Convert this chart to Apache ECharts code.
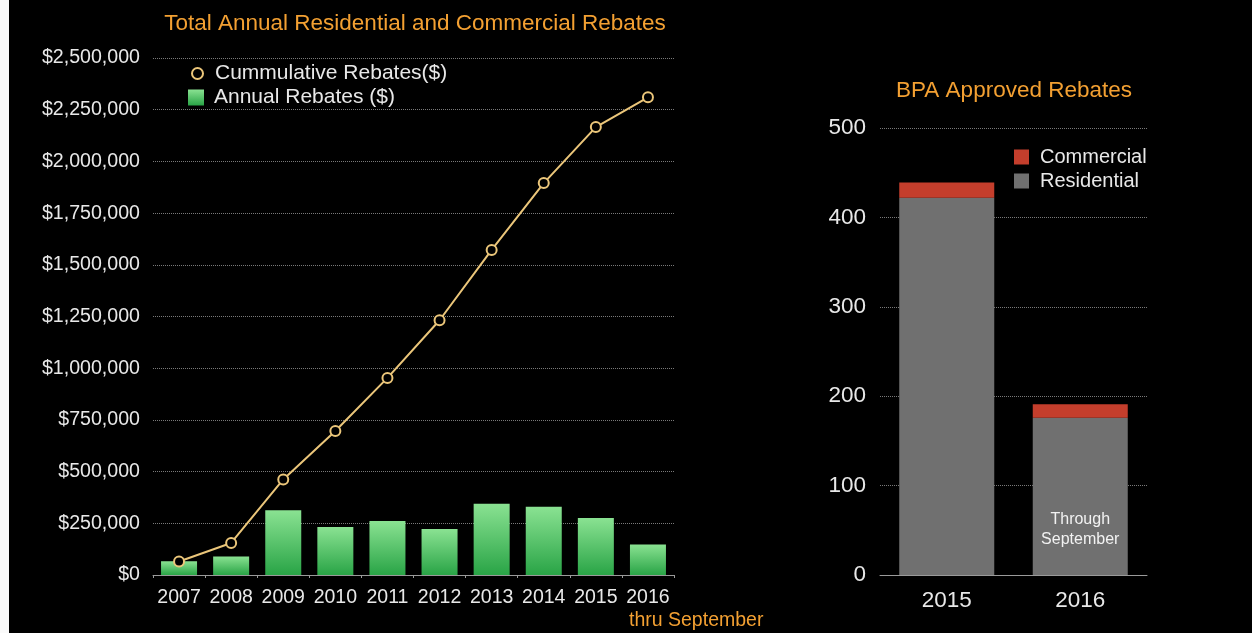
<!DOCTYPE html>
<html>
<head>
<meta charset="utf-8">
<script src="https://cdn.jsdelivr.net/npm/echarts@6/dist/echarts.min.js"></script>
<style>
  html, body { margin: 0; padding: 0; background: #000; }
  #chart { width: 1252px; height: 633px; }
</style>
</head>
<body>
<div id="chart"></div>
<script>
// Annual program rebates, 2007-2016 (2016 through September)
const years = ['2007', '2008', '2009', '2010', '2011', '2012', '2013', '2014', '2015', '2016'];
const annualRebates = [66000, 90000, 313000, 232000, 261000, 222000, 345000, 330000, 276000, 148000];
const cumulativeRebates = [65000, 155000, 462000, 696000, 953000, 1232000, 1572000, 1895000, 2166000, 2310000];

// BPA approved rebate counts
const bpaYears = ['2015', '2016'];
const residential = [422, 176];
const commercial = [17, 15];

const FONT = '"Liberation Sans", Arial, Helvetica, sans-serif';
const ORANGE = '#f3a032';
const LABEL = '#e8e8e8';
const GOLD = '#ebc67a';

function dollars(v) {
  return '$' + String(v).replace(/\B(?=(\d{3})+(?!\d))/g, ',');
}

const chart = echarts.init(document.getElementById('chart'), null, { renderer: 'canvas' });

chart.setOption({
  backgroundColor: '#000',
  animation: false,
  textStyle: { fontFamily: FONT },
  title: [
    {
      text: 'Total Annual Residential and Commercial Rebates',
      left: 410, top: 7, textAlign: 'center',
      textStyle: { color: ORANGE, fontSize: 22.5, fontWeight: 'normal', fontFamily: FONT }
    },
    {
      text: 'BPA Approved Rebates',
      left: 1009, top: 74, textAlign: 'center',
      textStyle: { color: ORANGE, fontSize: 22.5, fontWeight: 'normal', fontFamily: FONT }
    }
  ],
  legend: [
    {
      data: [{ name: 'Cummulative Rebates($)', icon: 'circle',
               itemStyle: { color: '#000', borderColor: GOLD, borderWidth: 2 } }],
      left: 191, top: 63, padding: 0, itemWidth: 11, itemHeight: 11,
      textStyle: { color: LABEL, fontSize: 21, fontFamily: FONT, padding: [0, 0, 0, 7] }
    },
    {
      data: [{ name: 'Annual Rebates ($)', icon: 'rect' }],
      left: 188, top: 87, padding: 0, itemWidth: 16, itemHeight: 16,
      textStyle: { color: LABEL, fontSize: 21, fontFamily: FONT, padding: [0, 0, 0, 5] }
    },
    {
      data: [{ name: 'Commercial', icon: 'rect' }, { name: 'Residential', icon: 'rect' }],
      orient: 'vertical', left: 1014, top: 147, padding: 0,
      itemWidth: 15, itemHeight: 15, itemGap: 4,
      textStyle: { color: LABEL, fontSize: 20, fontFamily: FONT, padding: [0, 0, 0, 6] }
    }
  ],
  grid: [
    { left: 153, right: 578, top: 58, bottom: 58 },
    { left: 880, right: 105, top: 128, bottom: 58 }
  ],
  xAxis: [
    {
      type: 'category', gridIndex: 0, data: years,
      axisLine: { lineStyle: { color: '#9a9a9a', width: 1 } },
      axisTick: { show: true, length: 3, lineStyle: { color: '#9a9a9a' } },
      axisLabel: { color: LABEL, fontSize: 19.5, margin: 13, interval: 0, fontFamily: FONT }
    },
    {
      type: 'category', gridIndex: 1, data: bpaYears,
      axisLine: { lineStyle: { color: '#9a9a9a', width: 1 } },
      axisTick: { show: false },
      axisLabel: { color: LABEL, fontSize: 22.5, margin: 14, interval: 0, fontFamily: FONT }
    }
  ],
  yAxis: [
    {
      type: 'value', gridIndex: 0, min: 0, max: 2500000, interval: 250000,
      axisLine: { show: false }, axisTick: { show: false },
      axisLabel: { color: LABEL, fontSize: 19.6, margin: 13, fontFamily: FONT, formatter: dollars },
      splitLine: { lineStyle: { color: '#7a7a7a', type: [1, 1], width: 1 } }
    },
    {
      type: 'value', gridIndex: 1, min: 0, max: 500, interval: 100,
      axisLine: { show: false }, axisTick: { show: false },
      axisLabel: { color: LABEL, fontSize: 22.5, margin: 14, fontFamily: FONT },
      splitLine: { lineStyle: { color: '#7a7a7a', type: [1, 1], width: 1 } }
    }
  ],
  series: [
    {
      name: 'Annual Rebates ($)', type: 'bar', xAxisIndex: 0, yAxisIndex: 0,
      data: annualRebates, barWidth: 36,
      itemStyle: {
        color: {
          type: 'linear', x: 0, y: 0, x2: 0, y2: 1,
          colorStops: [{ offset: 0, color: '#8ae292' }, { offset: 1, color: '#29a446' }]
        }
      }
    },
    {
      name: 'Cummulative Rebates($)', type: 'line', xAxisIndex: 0, yAxisIndex: 0,
      data: cumulativeRebates, z: 5,
      symbol: 'circle', symbolSize: 10,
      lineStyle: { color: GOLD, width: 2 },
      itemStyle: { color: '#000', borderColor: GOLD, borderWidth: 2 }
    },
    {
      name: 'Residential', type: 'bar', stack: 'bpa', xAxisIndex: 1, yAxisIndex: 1,
      barWidth: 95,
      itemStyle: { color: '#707070' },
      data: residential.map((v, i) => i === 1 ? {
        value: v,
        label: {
          show: true, position: 'insideBottom', distance: 25,
          formatter: 'Through\nSeptember', color: '#f2f2f2', fontSize: 16, lineHeight: 20,
          fontFamily: FONT
        }
      } : v)
    },
    {
      name: 'Commercial', type: 'bar', stack: 'bpa', xAxisIndex: 1, yAxisIndex: 1,
      barWidth: 95,
      itemStyle: { color: '#c43e2c' },
      data: commercial
    }
  ],
  graphic: [
    { type: 'rect', left: 0, top: 0, shape: { width: 9, height: 633 }, style: { fill: '#fafafa' } },
    {
      type: 'text', left: 629, top: 611,
      style: { text: 'thru September', fill: ORANGE, font: '19.5px ' + FONT }
    }
  ]
});
</script>
</body>
</html>
